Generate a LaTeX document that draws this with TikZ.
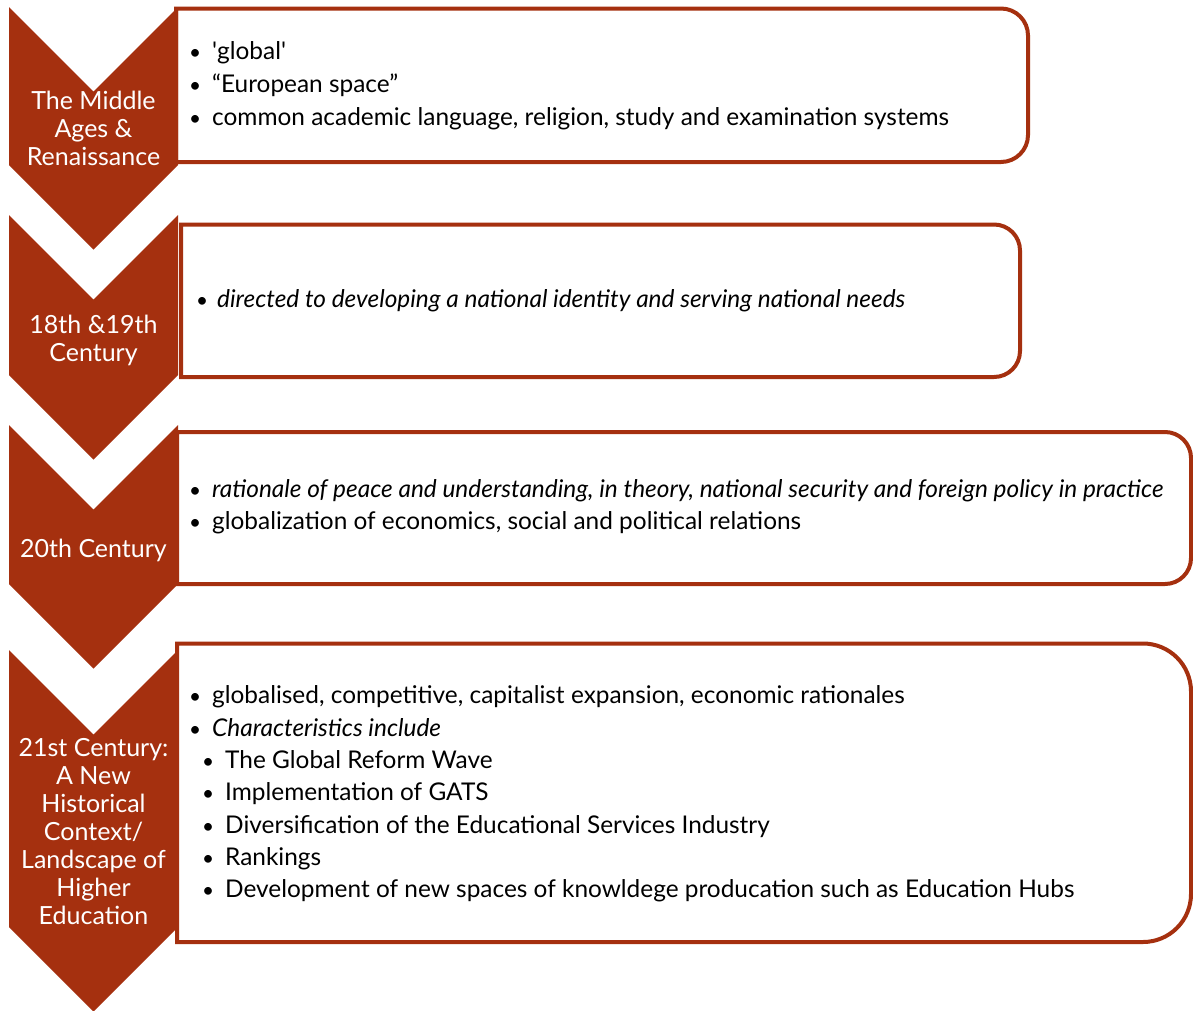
\documentclass[tikz,border=0pt]{standalone}
\usepackage{fontspec}
\setmainfont{Lato}
\definecolor{rust}{HTML}{A5300F}
\newcommand{\mypanel}[5]{%
  \draw[panel] (#1,#2) -- ({#3-#5},#2)
    .. controls ({#3-0.4477*#5},#2) and (#3,{#2+0.4477*#5}) .. (#3,{#2+#5})
    -- (#3,{#4-#5})
    .. controls (#3,{#4-0.4477*#5}) and ({#3-0.4477*#5},#4) .. ({#3-#5},#4)
    -- (#1,#4) -- cycle;}
\newcommand{\mychev}[2]{%
  \fill[rust] (9,#1) -- (93.5,{#1+84.5}) -- (178,#1) -- (178,#2) -- (93.5,{#2+84.5}) -- (9,#2) -- cycle;}
\newcommand{\bul}[1]{\makebox[#1][c]{\scalebox{0.85}{\textbullet}}}
\begin{document}
\begin{tikzpicture}[x=1pt,y=-1pt,
  panel/.style={draw=rust, line width=4pt, fill=white},
  ctext/.style={text=white, align=center, inner sep=0pt, font=\fontsize{25}{28}\selectfont},
  btext/.style={anchor=base west, inner sep=0pt, font=\fontsize{24.4}{28}\selectfont},
]
\useasboundingbox[fill=white] (0,0) rectangle (1193,1010);

% panels
\mypanel{176}{8.5}{1028}{162}{27}
\mypanel{181}{224.5}{1020}{377}{26}
\mypanel{177}{432}{1191}{584}{26}
\mypanel{177}{643.5}{1191}{942}{48}

% chevrons
\mychev{7}{165}
\mychev{215}{375}
\mychev{425}{584}
\mychev{650}{927}

% chevron labels
\node[ctext] (c1) at (93.5,128) {The Middle\\Ages \&\\Renaissance};
\node[ctext] (c2) at (93.5,340) {18th \&19th\\Century};
\node[ctext] (c3) at (93.5,550) {20th Century};
\node[ctext] (c4) at (93.5,832) {21st Century:\\A New\\Historical\\Context/\\Landscape of\\Higher\\Education};

% panel 1
\node[btext] (p1a) at (178,59) {\bul{34pt}\textquotesingle global\textquotesingle};
\node[btext] (p1b) at (178,92) {\bul{34pt}“European space”};
\node[btext] (p1c) at (178,125) {\bul{34pt}common academic language, religion, study and examination systems};

% panel 2
\node[btext] (p2a) at (187,307) {\bul{30pt}\itshape directed to developing a national identity and serving national needs};

% panel 3
\node[btext] (p3a) at (178,497) {\bul{34pt}\itshape rationale of peace and understanding, in theory, national security and foreign policy in practice};
\node[btext] (p3b) at (178,529) {\bul{34pt}globalization of economics, social and political relations};

% panel 4
\node[btext] (p4a) at (178,703) {\bul{34pt}globalised, competitive, capitalist expansion, economic rationales};
\node[btext] (p4b) at (178,736) {\bul{34pt}\itshape Characteristics include};
\node[btext] (p4c) at (191,768) {\bul{34pt}The Global Reform Wave};
\node[btext] (p4d) at (191,800) {\bul{34pt}Implementation of GATS};
\node[btext] (p4e) at (191,833) {\bul{34pt}Diversification of the Educational Services Industry};
\node[btext] (p4f) at (191,865) {\bul{34pt}Rankings};
\node[btext] (p4g) at (191,897) {\bul{34pt}Development of new spaces of knowldege producation such as Education Hubs};
\end{tikzpicture}
\end{document}
